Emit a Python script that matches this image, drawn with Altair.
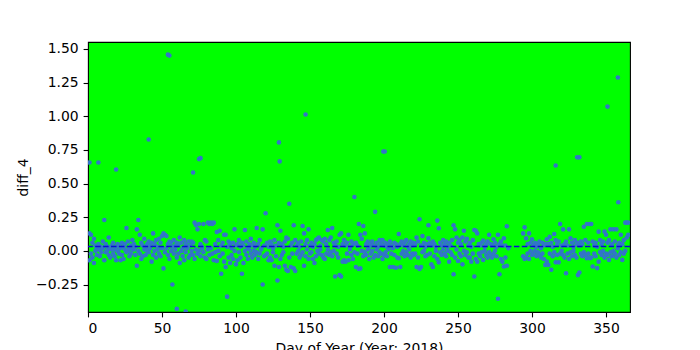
import altair as alt
import pandas as pd

N = None
# day-of-year values: two readings per day (upper / lower), None where no reading
diff_a = [
    0.13, 0.12, 0.06, 0.09, 0.04, 0.02, 0.05, 0.01, 0.03, 0.07,
    0.23, 0.05, 0.03, 0.10, 0.02, 0.04, 0.06, 0.01, 0.03, 0.05,
    0.04, 0.02, 0.06, 0.03, 0.05, 0.17, 0.07, 0.02, 0.04, 0.08,
    0.05, 0.03, 0.16, 0.23, 0.12, 0.06, 0.04, 0.09, 0.02, 0.05,
    0.07, 0.04, 0.06, 0.13, 0.05, 0.08, 0.03, 0.09, 0.06, 0.11,
    0.13, 0.12, 0.11, 0.05, 0.07, 0.06, 0.03, 0.08, 0.04, 0.06,
    0.04, 0.10, 0.06, 0.02, 0.08, 0.05, 0.03, 0.07, 0.04, 0.07,
    0.06, 0.21, 0.19, 0.16, 0.20, 0.05, 0.03, 0.20, 0.08, 0.07,
    0.21, 0.20, 0.21, 0.20, 0.21, 0.05, 0.14, 0.08, 0.15, 0.04,
    0.06, 0.12, 0.12, 0.03, 0.07, 0.05, 0.02, 0.06, 0.16, 0.04,
    0.05, 0.08, 0.03, 0.06, 0.04, 0.155, 0.07, 0.02, 0.05, 0.09,
    0.04, 0.06, 0.03, 0.17, 0.05, 0.08, 0.02, 0.16, 0.04, 0.28,
    0.06, 0.03, 0.07, 0.05, 0.02, 0.08, 0.04, 0.19, 0.06, 0.15,
    0.05, 0.03, 0.07, 0.10, 0.09, 0.35, 0.04, 0.06, 0.19, 0.08,
    0.04, 0.06, 0.03, 0.07, 0.185, 0.13, 0.05, 0.08, 0.16, 0.04,
    0.06, 0.03, 0.05, 0.08, 0.09, 0.10, 0.04, 0.08, 0.07, 0.09,
    0.05, 0.155, 0.08, 0.10, 0.17, 0.06, 0.04, 0.07, 0.03, 0.12,
    0.13, 0.05, 0.08, 0.04, 0.06, 0.12, 0.03, 0.07, 0.05, 0.40,
    0.06, 0.04, 0.20, 0.12, 0.09, 0.185, 0.13, 0.05, 0.07, 0.03,
    0.05, 0.07, 0.04, 0.29, 0.06, 0.03, 0.08, 0.05, 0.08, 0.04,
    0.06, 0.03, 0.05, 0.07, 0.04, 0.02, 0.06, 0.05, 0.03, 0.126,
    0.05, 0.07, 0.04, 0.06, 0.08, 0.03, 0.05, 0.07, 0.04, 0.06,
    0.05, 0.10, 0.07, 0.235, 0.04, 0.11, 0.06, 0.03, 0.05, 0.19,
    0.06, 0.04, 0.07, 0.05, 0.03, 0.225, 0.168, 0.06, 0.04, 0.08,
    0.05, 0.07, 0.03, 0.06, 0.04, 0.08, 0.19, 0.16, 0.10, 0.06,
    0.08, 0.05, 0.10, 0.15, 0.07, 0.09, 0.04, 0.06, 0.03, 0.08,
    0.155, 0.15, 0.13, 0.05, 0.04, 0.06, 0.077, 0.03, 0.05, 0.07,
    0.12, 0.05, 0.04, 0.087, 0.06, 0.03, 0.12, 0.05, 0.07, 0.04,
    0.094, 0.04, 0.183, 0.02, N, N, N, N, N, N,
    N, N, N, 0.13, 0.175, 0.094, 0.05, 0.13, 0.06, 0.087,
    0.04, 0.06, 0.03, 0.05, 0.07, 0.02, 0.06, 0.04, 0.05, 0.087,
    0.05, 0.104, 0.06, 0.03, 0.126, 0.08, 0.05, 0.07, 0.20, 0.04,
    0.16, 0.05, 0.07, 0.04, 0.16, 0.094, 0.06, 0.03, 0.08, 0.05,
    0.06, 0.04, 0.07, 0.05, 0.18, 0.08, 0.20, 0.06, 0.20, 0.20,
    0.07, 0.04, 0.06, 0.03, 0.143, 0.08, 0.05, 0.07, 0.143, 0.12,
    0.06, 0.08, 0.16, 0.05, 0.16, 0.07, 0.16, 0.04, 0.06, 0.12,
    0.05, 0.08, 0.21, 0.21, 0.21,
]
diff_b = [
    -0.07, -0.02, -0.05, -0.09, 0.00, -0.03, 0.01, -0.04, -0.01, 0.02,
    -0.07, -0.01, 0.00, -0.03, -0.05, 0.01, -0.02, -0.04, -0.07, 0.00,
    -0.02, -0.07, -0.03, -0.06, 0.01, -0.01, 0.00, -0.04, -0.02, 0.01,
    0.01, -0.03, -0.11, 0.00, -0.02, -0.06, -0.04, 0.01, -0.03, 0.00,
    -0.01, 0.02, -0.08, -0.03, 0.00, -0.05, 0.01, -0.02, -0.04, 0.02,
    -0.13, -0.01, 0.02, -0.03, -0.06, 0.00, -0.25, -0.02, 0.01, -0.05,
    -0.02, -0.09, 0.00, -0.04, -0.07, -0.01, 0.02, -0.05, -0.03, 0.00,
    -0.03, -0.06, 0.01, -0.02, 0.00, -0.04, 0.02, -0.01, -0.05, -0.06,
    0.01, -0.03, 0.02, -0.02, -0.07, -0.01, -0.075, 0.00, -0.04, -0.17,
    -0.02, -0.08, -0.12, -0.34, -0.05, -0.09, -0.03, -0.06, 0.00, -0.10,
    -0.07, -0.01, -0.05, -0.17, -0.09, 0.00, -0.03, -0.06, 0.01, -0.02,
    -0.05, 0.00, -0.03, -0.01, -0.06, -0.02, 0.01, -0.25, -0.04, -0.03,
    -0.02, -0.07, -0.05, -0.07, -0.01, -0.11, -0.04, -0.22, -0.12, -0.06,
    -0.03, -0.01, -0.11, -0.14, -0.15, -0.05, -0.12, -0.02, -0.13, -0.15,
    -0.02, 0.00, -0.05, -0.03, -0.01, -0.11, -0.04, 0.01, -0.06, -0.02,
    -0.01, -0.06, -0.09, -0.04, 0.00, -0.02, 0.01, -0.03, -0.05, -0.06,
    -0.02, 0.01, -0.03, -0.01, -0.04, 0.00, -0.19, -0.02, -0.05, -0.18,
    -0.19, -0.08, -0.07, -0.08, -0.02, -0.07, 0.01, -0.03, -0.06, -0.01,
    -0.12, -0.02, -0.135, -0.13, 0.00, -0.04, -0.01, -0.03, 0.01, -0.06,
    -0.02, 0.00, -0.05, -0.03, 0.01, -0.04, -0.01, -0.02, -0.06, -0.03,
    -0.01, -0.04, 0.01, -0.12, -0.02, -0.12, -0.03, -0.125, -0.05, -0.055,
    -0.12, -0.02, 0.00, -0.04, -0.01, -0.03, 0.01, -0.05, -0.02, -0.03,
    -0.02, -0.12, -0.05, -0.135, -0.12, -0.01, 0.00, -0.04, -0.03, 0.094,
    -0.02, -0.10, -0.12, -0.04, 0.00, -0.06, -0.085, -0.01, -0.03, 0.01,
    -0.02, -0.04, 0.00, -0.08, -0.01, -0.03, -0.173, -0.05, 0.01, -0.075,
    -0.02, -0.04, -0.10, 0.00, -0.03, -0.01, -0.05, -0.05, -0.08, -0.02,
    -0.19, -0.06, -0.08, -0.02, -0.04, -0.01, -0.067, 0.00, -0.03, -0.05,
    -0.01, -0.03, -0.05, -0.02, 0.00, -0.04, -0.356, -0.173, -0.06, -0.08,
    -0.116, -0.05, -0.11, N, N, N, N, N, N, N,
    N, N, N, -0.04, -0.06, -0.05, -0.02, -0.06, 0.00, -0.03,
    -0.02, 0.00, -0.04, -0.01, -0.03, -0.05, -0.02, -0.06, -0.104, -0.08,
    -0.104, -0.02, -0.14, -0.04, -0.01, -0.085, -0.03, -0.085, -0.02, 0.00,
    -0.03, -0.05, -0.166, -0.02, -0.06, -0.01, -0.04, 0.00, -0.03, -0.05,
    -0.18, -0.16, -0.02, -0.04, -0.01, -0.03, -0.054, -0.02, -0.054, -0.05,
    -0.116, -0.02, -0.04, -0.128, -0.08, -0.01, -0.03, 0.00, -0.05, -0.02,
    -0.03, -0.067, -0.01, -0.04, 0.00, -0.02, -0.05, 0.02, -0.03, -0.01,
    -0.067, -0.02, 0.00, 0.10, 0.12,
]
# isolated readings far from the band
out_days = [1, 7, 19, 41, 54, 55, 60, 66, 71, 75, 76, 85, 129, 129.5, 147,
            199.5, 200.5, 316, 330.5, 332, 351, 358, 358.3]
out_vals = [0.657, 0.657, 0.605, 0.828, 1.458, 1.451, -0.43, -0.45, 0.583, 0.682,
            0.689, -0.47, 0.806, 0.665, 1.013, 0.739, 0.739, 0.635, 0.695, 0.695,
            1.072, 1.288, 0.361]
mean_level = [0.032]

x_ticks = [0, 50, 100, 150, 200, 250, 300, 350]
y_ticks = [-0.25, 0.0, 0.25, 0.5, 0.75, 1.0, 1.25, 1.5]

rows = []
for i, (a, b) in enumerate(zip(diff_a, diff_b)):
    d = i + 1
    if a is not None:
        rows.append({"day": d, "diff_4": a})
    if b is not None:
        rows.append({"day": d, "diff_4": b})
for d, v in zip(out_days, out_vals):
    rows.append({"day": d, "diff_4": v})
df = pd.DataFrame(rows)

font = "DejaVu Sans"
xscale = alt.Scale(domain=[0, 366.2], nice=False, zero=False)
yscale = alt.Scale(domain=[-0.454, 1.552], nice=False, zero=False)
yaxis = alt.Axis(title="diff_4", values=y_ticks, format=".2f", labelOverlap=False)

points = alt.Chart(df).mark_point(
    filled=True, shape="circle", size=21, color="#3275c8", opacity=1, clip=True
).encode(
    x=alt.X("day:Q", scale=xscale,
            axis=alt.Axis(title="Day of Year (Year: 2018)", values=x_ticks, format="d",
                          labelOverlap=False)),
    y=alt.Y("diff_4:Q", scale=yscale, axis=yaxis),
)

rule = alt.Chart(pd.DataFrame({"m": mean_level})).mark_rule(
    color="#0a0ad8", strokeWidth=1.5, strokeDash=[5.5, 2.4]
).encode(y=alt.Y("m:Q", scale=yscale, axis=yaxis, title="diff_4"))

chart = alt.layer(points, rule).properties(
    width=542, height=270,
    background="white",
    autosize=alt.AutoSizeParams(type="none"),
    padding={"left": 88, "top": 42, "right": 70, "bottom": 38},
).configure_view(
    fill="#00ff00", stroke="black", strokeWidth=1.1
).configure_axis(
    grid=False, domain=False,
    tickColor="black", tickSize=4.9, tickWidth=1.1,
    labelFont=font, labelFontSize=13.9, labelColor="black", labelPadding=4.9,
    titleFont=font, titleFontSize=13.9, titleFontWeight="normal", titleColor="black",
    titlePadding=5.6,
)

chart.save("out.html", embed_options={"renderer": "svg", "actions": False})
